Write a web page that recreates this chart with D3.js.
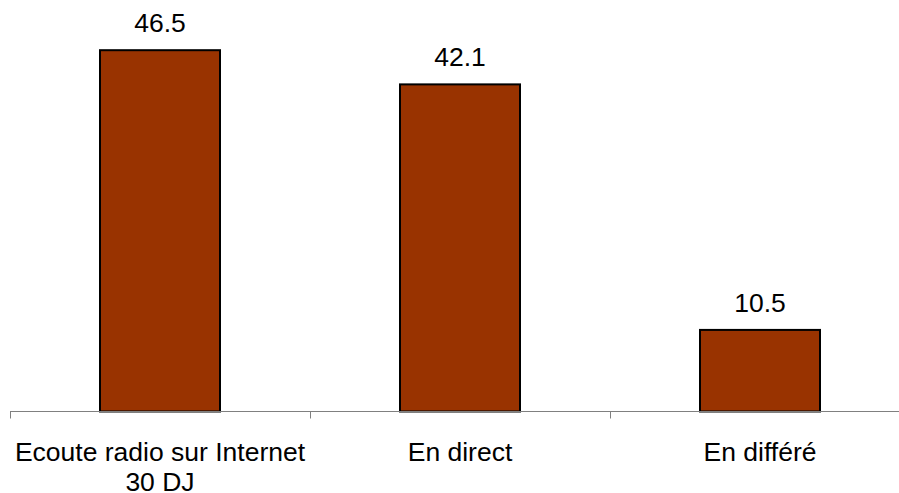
<!DOCTYPE html>
<html>
<head>
<meta charset="utf-8">
<script src="https://cdn.jsdelivr.net/npm/d3@7"></script>
<style>
  html, body { margin: 0; padding: 0; background: #fff; }
  svg { display: block; }
  text { font-family: "Liberation Sans", Arial, sans-serif; fill: #000; }
</style>
</head>
<body>
<svg id="chart" width="899" height="493"></svg>
<script>
const categories = [["Ecoute radio sur Internet", "30 DJ"], ["En direct"], ["En différé"]];
const values = [46.5, 42.1, 10.5];
const valueLabels = ["46.5", "42.1", "10.5"];

const svg = d3.select("#chart");
const baseY = 411.5;
const fontSize = 26.5;

const x = d3.scaleBand()
  .domain(d3.range(categories.length))
  .range([10, 910])
  .paddingInner(0.6)
  .paddingOuter(0.3);

const y = d3.scaleLinear().domain([0, 50]).range([baseY, baseY - 50 * 7.77]);

// bars
svg.selectAll("rect.bar")
  .data(values)
  .join("rect")
  .attr("class", "bar")
  .attr("x", (d, i) => x(i))
  .attr("y", d => y(d))
  .attr("width", x.bandwidth())
  .attr("height", d => baseY - y(d))
  .attr("fill", "#993300")
  .attr("stroke", "#000")
  .attr("stroke-width", 2);

// axis line
const step = x.step();
svg.append("line")
  .attr("x1", 10).attr("x2", 910)
  .attr("y1", baseY).attr("y2", baseY)
  .attr("stroke", "#808080").attr("stroke-width", 1);

// ticks at band boundaries
const tickXs = d3.range(categories.length + 1).map(i => x(0) - x.paddingOuter() * step + i * step);
svg.selectAll("line.tick")
  .data(tickXs)
  .join("line")
  .attr("class", "tick")
  .attr("x1", d => Math.round(d) + 0.5).attr("x2", d => Math.round(d) + 0.5)
  .attr("y1", baseY).attr("y2", baseY + 7)
  .attr("stroke", "#808080").attr("stroke-width", 1);

// value labels
svg.selectAll("text.val")
  .data(values)
  .join("text")
  .attr("class", "val")
  .attr("x", (d, i) => x(i) + x.bandwidth() / 2)
  .attr("y", d => y(d) - 18)
  .attr("text-anchor", "middle")
  .attr("font-size", fontSize)
  .text((d, i) => valueLabels[i]);

// category labels
const cat = svg.selectAll("text.cat")
  .data(categories)
  .join("text")
  .attr("class", "cat")
  .attr("text-anchor", "middle")
  .attr("font-size", fontSize)
  .attr("x", (d, i) => x(i) + x.bandwidth() / 2)
  .attr("y", 460.5);
cat.selectAll("tspan")
  .data((d, i) => d.map(s => ({ s, i })))
  .join("tspan")
  .attr("x", d => x(d.i) + x.bandwidth() / 2)
  .attr("dy", (d, j) => j === 0 ? 0 : 30)
  .text(d => d.s);
</script>
</body>
</html>
